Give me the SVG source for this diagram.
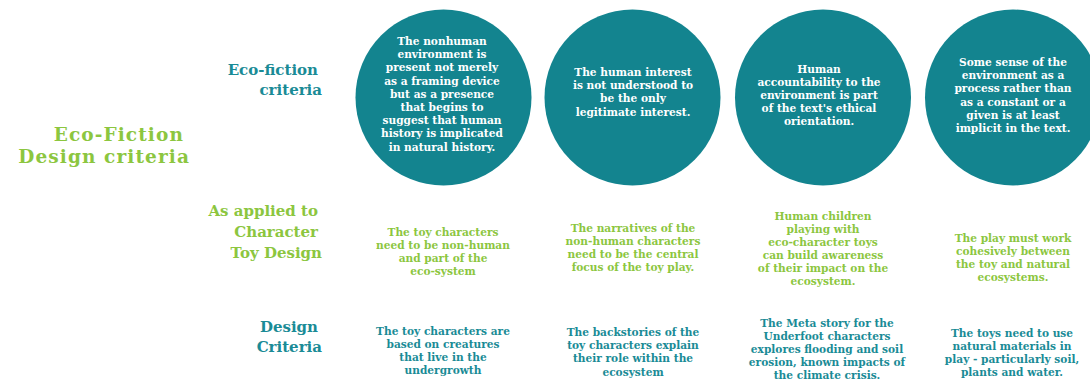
<svg xmlns="http://www.w3.org/2000/svg" width="1090" height="383" viewBox="0 0 1090 383">
<style>
text{font-family:"DejaVu Serif","Liberation Serif",serif;font-weight:bold;text-anchor:middle}
.c{fill:#13848f}
.w{fill:#ffffff;font-size:10.6px}
.g{fill:#8cc63f;font-size:10.6px}
.t{fill:#1a8b96;font-size:10.6px}
.lg{fill:#8cc63f;font-size:15px;text-anchor:end}
.lt{fill:#1a8b96;font-size:15px;text-anchor:end}
.big{fill:#8cc63f;font-size:18.5px;letter-spacing:1.1px;text-anchor:end}
</style>
<rect width="1090" height="383" fill="#ffffff"/>
<g id="title">
<text class="big"><tspan x="184" y="140.5">Eco-Fiction</tspan><tspan x="190" y="162.5">Design criteria</tspan></text>
</g>
<g id="label-eco">
<text class="lt"><tspan x="318" y="75">Eco-fiction</tspan><tspan x="322" y="95">criteria</tspan></text>
</g>
<g id="label-applied">
<text class="lg"><tspan x="318" y="216">As applied to</tspan><tspan x="318" y="237">Character</tspan><tspan x="322" y="258">Toy Design</tspan></text>
</g>
<g id="label-design">
<text class="lt"><tspan x="318" y="332">Design</tspan><tspan x="322" y="352">Criteria</tspan></text>
</g>
<g id="circle1">
<circle class="c" cx="443.5" cy="97.5" r="88"/>
<text class="w"><tspan x="442" y="45">The nonhuman</tspan><tspan x="442" y="58.2">environment is</tspan><tspan x="442" y="71.4">present not merely</tspan><tspan x="442" y="84.6">as a framing device</tspan><tspan x="442" y="97.8">but as a presence</tspan><tspan x="442" y="111">that begins to</tspan><tspan x="442" y="124.2">suggest that human</tspan><tspan x="442" y="137.4">history is implicated</tspan><tspan x="442" y="150.6">in natural history.</tspan></text>
</g>
<g id="circle2">
<circle class="c" cx="632.5" cy="97.5" r="88"/>
<text class="w"><tspan x="633" y="76">The human interest</tspan><tspan x="633" y="89.2">is not understood to</tspan><tspan x="633" y="102.4">be the only</tspan><tspan x="633" y="115.6">legitimate interest.</tspan></text>
</g>
<g id="circle3">
<circle class="c" cx="823" cy="97.5" r="88"/>
<text class="w"><tspan x="819" y="72.5">Human</tspan><tspan x="819" y="85.7">accountability to the</tspan><tspan x="819" y="98.9">environment is part</tspan><tspan x="819" y="112.1">of the text's ethical</tspan><tspan x="819" y="125.3">orientation.</tspan></text>
</g>
<g id="circle4">
<circle class="c" cx="1013" cy="97.5" r="88"/>
<text class="w"><tspan x="1013" y="66">Some sense of the</tspan><tspan x="1013" y="79.2">environment as a</tspan><tspan x="1013" y="92.4">process rather than</tspan><tspan x="1013" y="105.6">as a constant or a</tspan><tspan x="1013" y="118.8">given is at least</tspan><tspan x="1013" y="132">implicit in the text.</tspan></text>
</g>
<g id="toy1">
<text class="g"><tspan x="443" y="236">The toy characters</tspan><tspan x="443" y="249">need to be non-human</tspan><tspan x="443" y="262">and part of the</tspan><tspan x="443" y="275">eco-system</tspan></text>
</g>
<g id="toy2">
<text class="g"><tspan x="633" y="232">The narratives of the</tspan><tspan x="633" y="245">non-human characters</tspan><tspan x="633" y="258">need to be the central</tspan><tspan x="633" y="271">focus of the toy play.</tspan></text>
</g>
<g id="toy3">
<text class="g"><tspan x="823" y="220">Human children</tspan><tspan x="823" y="233">playing with</tspan><tspan x="823" y="246">eco-character toys</tspan><tspan x="823" y="259">can build awareness</tspan><tspan x="823" y="272">of their impact on the</tspan><tspan x="823" y="285">ecosystem.</tspan></text>
</g>
<g id="toy4">
<text class="g"><tspan x="1013" y="242">The play must work</tspan><tspan x="1013" y="255">cohesively between</tspan><tspan x="1013" y="268">the toy and natural</tspan><tspan x="1013" y="281">ecosystems.</tspan></text>
</g>
<g id="design1">
<text class="t"><tspan x="443" y="334.5">The toy characters are</tspan><tspan x="443" y="347.7">based on creatures</tspan><tspan x="443" y="360.9">that live in the</tspan><tspan x="443" y="374.1">undergrowth</tspan></text>
</g>
<g id="design2">
<text class="t"><tspan x="633" y="336">The backstories of the</tspan><tspan x="633" y="349.2">toy characters explain</tspan><tspan x="633" y="362.4">their role within the</tspan><tspan x="633" y="375.6">ecosystem</tspan></text>
</g>
<g id="design3">
<text class="t"><tspan x="827" y="327">The Meta story for the</tspan><tspan x="827" y="340">Underfoot characters</tspan><tspan x="827" y="353">explores flooding and soil</tspan><tspan x="827" y="366">erosion, known impacts of</tspan><tspan x="827" y="379">the climate crisis.</tspan></text>
</g>
<g id="design4">
<text class="t"><tspan x="1012" y="337">The toys need to use</tspan><tspan x="1012" y="350">natural materials in</tspan><tspan x="1012" y="363">play - particularly soil,</tspan><tspan x="1012" y="376">plants and water.</tspan></text>
</g>
</svg>
